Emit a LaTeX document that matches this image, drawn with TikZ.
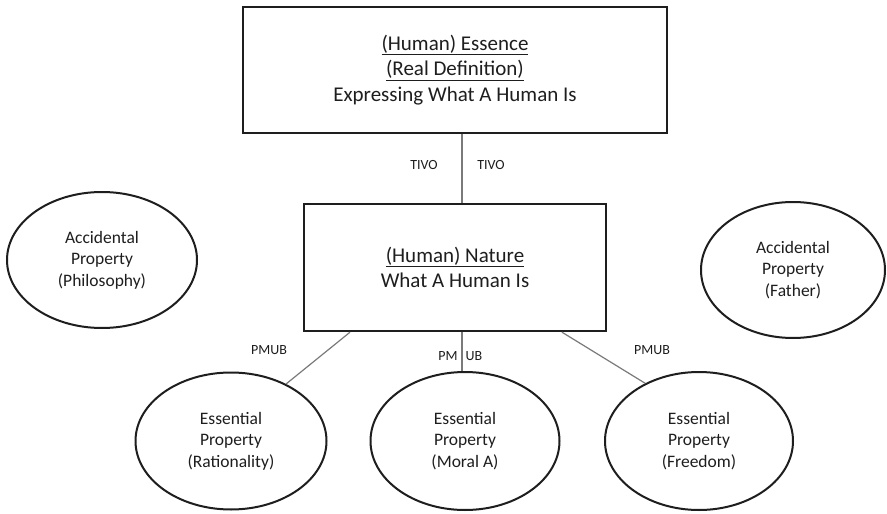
\documentclass[tikz,border=0pt]{standalone}
\usepackage{fontspec}
\setmainfont{Carlito}
\usetikzlibrary{shapes.geometric}
\definecolor{txt}{HTML}{1E1E1E}
\definecolor{conn}{HTML}{7A7A7A}
\tikzset{
  bigbox/.style={draw=txt, line width=2.4pt, rectangle, inner sep=0pt, align=center, text=txt,
    font=\fontsize{21}{25.5}\selectfont},
  prop/.style={draw=txt, line width=2pt, ellipse, inner sep=0pt, align=center, text=txt,
    font=\fontsize{17.5}{21.5}\selectfont},
  rel/.style={text=txt, inner sep=0pt, font=\fontsize{14}{16}\selectfont},
  link/.style={draw=conn, line width=1.2pt}
}
\begin{document}
\begin{tikzpicture}[x=1pt, y=-1pt]
\useasboundingbox[fill=white] (0,0) rectangle (887,514);

\node[bigbox, minimum width=424pt, minimum height=126pt] (top) at (455,70)
  {\underline{(Human) Essence}\\ \underline{(Real Definition)}\\ Expressing What A Human Is};
\node[bigbox, minimum width=302pt, minimum height=127pt] (mid) at (455,267.5)
  {\underline{(Human) Nature}\\ What A Human Is};

\node[prop, minimum width=190pt, minimum height=136pt] (a1) at (102,260)
  {Accidental\\ Property\\ (Philosophy)};
\node[prop, minimum width=184pt, minimum height=136pt] (a2) at (793,270)
  {Accidental\\ Property\\ (Father)};

\node[prop, minimum width=191pt, minimum height=137pt] (e1) at (231,441)
  {Essential\\ Property\\ (Rationality)};
\node[prop, minimum width=189pt, minimum height=138pt] (e2) at (465,441)
  {Essential\\ Property\\ (Moral A)};
\node[prop, minimum width=188pt, minimum height=138pt] (e3) at (699,441)
  {Essential\\ Property\\ (Freedom)};

\draw[link] ([xshift=7pt]top.south) -- ([xshift=7pt]top.south |- mid.north);
\draw[link] ([xshift=-105pt]mid.south) -- (e1.46);
\draw[link] ([xshift=7pt]mid.south) -- ([xshift=7pt]mid.south |- e2.north);
\draw[link] ([xshift=107pt]mid.south) -- (e3.133);

\node[rel] (t1) at (424,165) {TIVO};
\node[rel] (t2) at (491,165) {TIVO};
\node[rel] (p1) at (269,350) {PMUB};
\node[rel] (p2a) at (448,356) {PM};
\node[rel] (p2b) at (474,356) {UB};
\node[rel] (p3) at (652,350) {PMUB};
\end{tikzpicture}
\end{document}
